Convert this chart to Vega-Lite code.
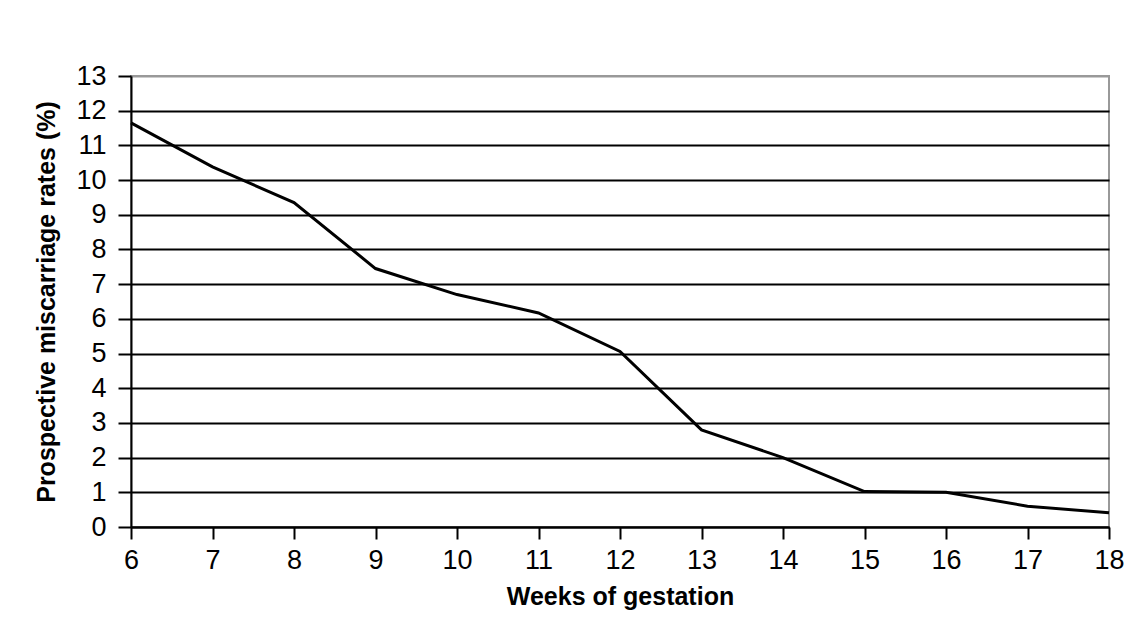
{
  "$schema": "https://vega.github.io/schema/vega-lite/v6.json",
  "autosize": "none",
  "width": 978,
  "height": 451,
  "padding": {"left": 131, "top": 76, "right": 20, "bottom": 113},
  "background": "white",
  "config": {
    "font": "Liberation Sans",
    "view": {"stroke": "#999999", "strokeWidth": 2}
  },
  "data": {
    "values": [
      {"week": 6, "rate": 11.65},
      {"week": 7, "rate": 10.38},
      {"week": 8, "rate": 9.35},
      {"week": 9, "rate": 7.45},
      {"week": 10, "rate": 6.7},
      {"week": 11, "rate": 6.17},
      {"week": 12, "rate": 5.06},
      {"week": 13, "rate": 2.8},
      {"week": 14, "rate": 2.0},
      {"week": 15, "rate": 1.02},
      {"week": 16, "rate": 1.0},
      {"week": 17, "rate": 0.6},
      {"week": 18, "rate": 0.41}
    ]
  },
  "mark": {"type": "line", "color": "black", "strokeWidth": 3},
  "encoding": {
    "x": {
      "field": "week",
      "type": "quantitative",
      "scale": {"domain": [6, 18], "nice": false, "zero": false},
      "axis": {
        "title": "Weeks of gestation",
        "titleFont": "Liberation Sans",
        "titleFontSize": 25,
        "titleFontWeight": "bold",
        "titleColor": "black",
        "titlePadding": 11,
        "values": [6, 7, 8, 9, 10, 11, 12, 13, 14, 15, 16, 17, 18],
        "format": "d",
        "labelFontSize": 27,
        "labelColor": "black",
        "labelPadding": 8,
        "labelFlush": false,
        "tickSize": 12,
        "tickColor": "black",
        "tickWidth": 2,
        "domainColor": "black",
        "domainWidth": 2,
        "grid": false
      }
    },
    "y": {
      "field": "rate",
      "type": "quantitative",
      "scale": {"domain": [0, 13], "nice": false},
      "axis": {
        "title": "Prospective miscarriage rates (%)",
        "titleFont": "Liberation Sans",
        "titleFontSize": 25,
        "titleFontWeight": "bold",
        "titleColor": "black",
        "titlePadding": 16,
        "values": [0, 1, 2, 3, 4, 5, 6, 7, 8, 9, 10, 11, 12, 13],
        "format": "d",
        "labelFontSize": 27,
        "labelColor": "black",
        "labelPadding": 12,
        "labelFlush": false,
        "tickSize": 13,
        "tickColor": "black",
        "tickWidth": 2,
        "domainColor": "black",
        "domainWidth": 2,
        "grid": true,
        "gridColor": {"condition": {"test": "datum.value == 13", "value": "#999999"}, "value": "black"},
        "gridWidth": 2,
        "gridOpacity": 1
      }
    }
  }
}
